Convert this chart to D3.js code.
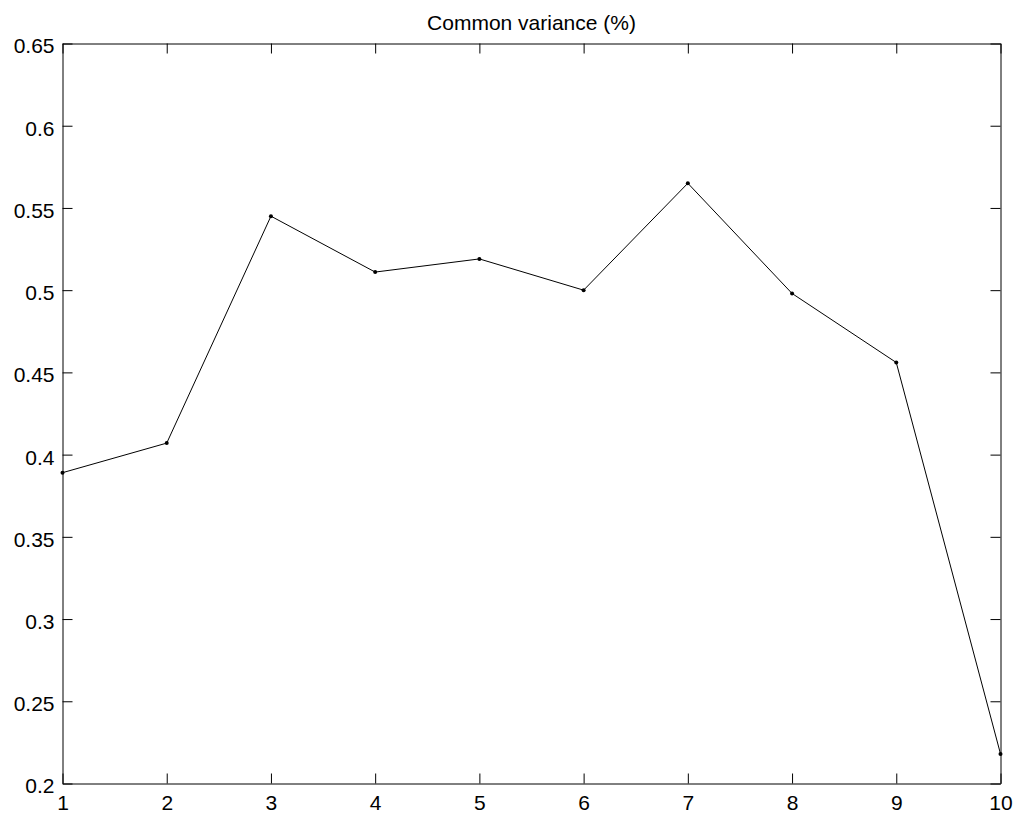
<!DOCTYPE html>
<html>
<head>
<meta charset="utf-8">
<script src="https://cdn.jsdelivr.net/npm/d3@7"></script>
<style>
  html, body { margin: 0; padding: 0; background: #fff; }
  svg { display: block; }
  text { font-family: "Liberation Sans", Arial, sans-serif; fill: #000; }
</style>
</head>
<body>
<svg id="chart" width="1016" height="816"></svg>
<script>
// Component index and its common variance
const components = [1, 2, 3, 4, 5, 6, 7, 8, 9, 10];
const commonVariance = [0.389, 0.407, 0.545, 0.511, 0.519, 0.500, 0.565, 0.498, 0.456, 0.218];
const xTicks = [1, 2, 3, 4, 5, 6, 7, 8, 9, 10];
const yTicks = [0.2, 0.25, 0.3, 0.35, 0.4, 0.45, 0.5, 0.55, 0.6, 0.65];
const yTickLabels = ["0.2", "0.25", "0.3", "0.35", "0.4", "0.45", "0.5", "0.55", "0.6", "0.65"];
const titleText = "Common variance (%)";

const svg = d3.select("#chart");
const margin = { left: 62.5, right: 15.5, top: 43.5, bottom: 32.5 };
const W = 1016, H = 816;

const x = d3.scaleLinear().domain([1, 10]).range([margin.left, W - margin.right]);
const y = d3.scaleLinear().domain([0.2, 0.65]).range([H - margin.bottom, margin.top]);

const tickLen = 10;
const fontSize = 21;

// Bottom axis: inward ticks, labels below
const xAxisB = d3.axisBottom(x).tickValues(xTicks).tickFormat(d3.format("d"))
  .tickSizeInner(-tickLen).tickSizeOuter(0).tickPadding(12);
const gB = svg.append("g").attr("transform", `translate(0,${y(0.2)})`).call(xAxisB);

// Top axis: inward ticks, no labels
const xAxisT = d3.axisTop(x).tickValues(xTicks).tickFormat("")
  .tickSizeInner(-tickLen).tickSizeOuter(0);
const gT = svg.append("g").attr("transform", `translate(0,${y(0.65)})`).call(xAxisT);

// Left axis: inward ticks, labels left
const yAxisL = d3.axisLeft(y).tickValues(yTicks).tickFormat((d, i) => yTickLabels[i])
  .tickSizeInner(-tickLen).tickSizeOuter(0).tickPadding(8);
const gL = svg.append("g").attr("transform", `translate(${x(1)},0)`).call(yAxisL);

// Right axis: inward ticks, no labels
const yAxisR = d3.axisRight(y).tickValues(yTicks).tickFormat("")
  .tickSizeInner(-tickLen).tickSizeOuter(0);
const gR = svg.append("g").attr("transform", `translate(${x(10)},0)`).call(yAxisR);

[gB, gT, gL, gR].forEach(g => {
  g.select(".domain").attr("stroke", "#000").attr("stroke-width", 1);
  g.selectAll(".tick line").attr("stroke", "#000").attr("stroke-width", 1);
  g.selectAll(".tick text")
    .style("font-family", '"Liberation Sans", Arial, sans-serif')
    .style("font-size", fontSize + "px")
    .attr("fill", "#000");
});
gL.selectAll(".tick text").attr("dy", "0.45em");

// Title
svg.append("text")
  .attr("x", (x(1) + x(10)) / 2)
  .attr("y", margin.top - 14)
  .attr("text-anchor", "middle")
  .style("font-size", fontSize + "px")
  .text(titleText);

// Data line
const line = d3.line().x((d, i) => x(components[i])).y(d => y(d));
svg.append("path")
  .datum(commonVariance)
  .attr("fill", "none")
  .attr("stroke", "#000")
  .attr("stroke-width", 1)
  .attr("d", line);

// Point markers
svg.append("g").selectAll("circle")
  .data(commonVariance)
  .join("circle")
  .attr("cx", (d, i) => x(components[i]))
  .attr("cy", d => y(d))
  .attr("r", 2)
  .attr("fill", "#000");
</script>
</body>
</html>
